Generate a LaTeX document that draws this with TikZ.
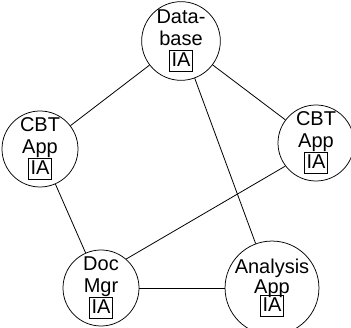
\documentclass[tikz,border=0pt]{standalone}
\usepackage{fontspec}
\setmainfont{Liberation Sans}
\begin{document}
\begin{tikzpicture}[x=1pt,y=-1pt,
  unit/.style={draw,circle,minimum size=76pt,inner sep=0pt,line width=0.75pt,
    align=center,font=\fontsize{20}{21.5}\selectfont},
  link/.style={draw,line width=0.8pt}]
\useasboundingbox (0,0) rectangle (351,328);
\newcommand{\iabox}{{\setlength\fboxsep{1.8pt}\setlength\fboxrule{0.7pt}\fbox{\rule[-2.5pt]{0pt}{17pt}IA}}}
\node[unit] (db) at (181,41) {Data-\\base\\\iabox};
\node[unit] (cl) at (40,149) {CBT\\App\\\iabox};
\node[unit] (cr) at (316,143) {CBT\\App\\\iabox};
\node[unit] (doc) at (101,288) {Doc\\Mgr\\\iabox};
\node[unit,font=\fontsize{20}{19.5}\selectfont] (an) at (272,288) {Analysis\\App\\[-4pt]\iabox};
\draw[link] (db) -- (cl);
\draw[link] (db) -- (cr);
\draw[link] (db) -- (an);
\draw[link] (cl) -- (doc);
\draw[link] (cr.217) -- (doc.49);
\draw[link] (doc.east) -- (doc.east -| an.west);
\end{tikzpicture}
\end{document}
